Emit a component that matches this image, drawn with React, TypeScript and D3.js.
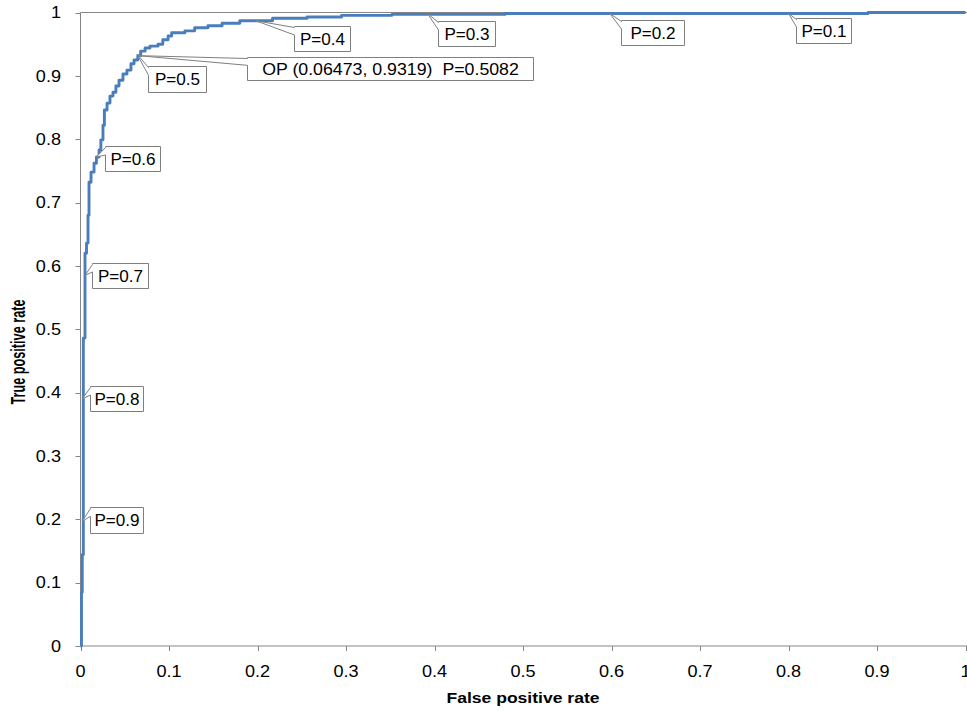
import React from "react";
import * as d3 from "d3";

// ROC curve vertices (false positive rate where the step occurs, true positive rate reached)
const fprValues = [
  0, 0.0011, 0.002, 0.0032, 0.0051, 0.0068, 0.0085, 0.0096, 0.0119, 0.0153, 0.018, 0.021, 0.023,
  0.0254, 0.027, 0.03, 0.0333, 0.0367, 0.04, 0.0435, 0.048, 0.0525, 0.057, 0.0605, 0.06473, 0.068,
  0.073, 0.0785, 0.0876, 0.093, 0.099, 0.103, 0.118, 0.129, 0.144, 0.16, 0.18, 0.217, 0.256, 0.295,
  0.352, 0.48, 0.89, 1,
];
const tprValues = [
  0, 0.085, 0.144, 0.486, 0.62, 0.636, 0.68, 0.732, 0.748, 0.762, 0.772, 0.783, 0.799, 0.822, 0.846,
  0.857, 0.868, 0.874, 0.884, 0.893, 0.903, 0.909, 0.919, 0.925, 0.9319, 0.939, 0.944, 0.947, 0.95,
  0.957, 0.963, 0.968, 0.971, 0.976, 0.979, 0.983, 0.987, 0.991, 0.993, 0.9955, 0.997, 0.9985, 1, 1,
];

const xTicks = [0, 0.1, 0.2, 0.3, 0.4, 0.5, 0.6, 0.7, 0.8, 0.9, 1];
const yTicks = [0, 0.1, 0.2, 0.3, 0.4, 0.5, 0.6, 0.7, 0.8, 0.9, 1];
const xTickLabels = ["0", "0.1", "0.2", "0.3", "0.4", "0.5", "0.6", "0.7", "0.8", "0.9", "1"];
const yTickLabels = ["0", "0.1", "0.2", "0.3", "0.4", "0.5", "0.6", "0.7", "0.8", "0.9", "1"];

const xTitle = "False positive rate";
const yTitle = "True positive rate";

// Callout labels anchored on the curve
const labelTexts = ["P=0.9", "P=0.8", "P=0.7", "P=0.6", "P=0.5", "OP (0.06473, 0.9319)  P=0.5082", "P=0.4", "P=0.3", "P=0.2", "P=0.1"];
const labelFpr = [0.002, 0.002, 0.0051, 0.018, 0.064, 0.06473, 0.198, 0.392, 0.598, 0.8];
const labelTpr = [0.197, 0.39, 0.585, 0.772, 0.934, 0.9319, 0.987, 0.9985, 0.9985, 0.9985];

// layout of callout boxes relative to their anchor (pixels)
const labelLayout = [
  { dx: 7.7, dy: -14, w: 53, h: 26 },
  { dx: 7.7, dy: -13, w: 53, h: 25 },
  { dx: 7, dy: -12.5, w: 56, h: 25 },
  { dx: 8.6, dy: -11, w: 55, h: 25 },
  { dx: 11, dy: 12, w: 58, h: 26 },
  { dx: 109, dy: 1.4, w: 286, h: 23 },
  { dx: 38.3, dy: 5, w: 56, h: 25 },
  { dx: 10.6, dy: 7.6, w: 57, h: 25 },
  { dx: 11.3, dy: 6.6, w: 63, h: 25 },
  { dx: 7.5, dy: 4.6, w: 55, h: 25 },
];

const W = 967;
const H = 711;
const LEFT = 80.5;
const RIGHT = 965.5;
const TOP = 12.5;
const BOTTOM = 646;
const AXIS = "#868686";
const LINE = "#4a7ebb";
const FONT = "'Liberation Sans', Arial, sans-serif";
const SX = 1.13;

export default function App() {
  const x = d3.scaleLinear().domain([0, 1]).range([LEFT, RIGHT]);
  const y = d3.scaleLinear().domain([0, 1]).range([BOTTOM, TOP]);
  const pts = fprValues.map((f, i) => [f, tprValues[i]] as [number, number]);
  const line = d3
    .line<[number, number]>()
    .x((d) => x(d[0]))
    .y((d) => y(d[1]))
    .curve(d3.curveStepAfter);

  return (
    <div style={{ position: "fixed", left: 0, top: 0, width: W, height: H, background: "#fff" }}>
      <svg width={W} height={H} style={{ display: "block" }}>
        <rect x={0} y={0} width={W} height={H} fill="#fff" />
        {/* top border line */}
        <line x1={LEFT} x2={RIGHT + 5} y1={TOP} y2={TOP} stroke={AXIS} strokeWidth={1} />
        {/* y axis */}
        <line x1={LEFT} x2={LEFT} y1={TOP} y2={BOTTOM} stroke={AXIS} strokeWidth={1} />
        {yTicks.map((t, i) => (
          <g key={"yt" + i}>
            <line x1={LEFT - 5} x2={LEFT} y1={Math.round(y(t)) + 0.5} y2={Math.round(y(t)) + 0.5} stroke={AXIS} />
            <g transform={`translate(${61},${y(t)}) scale(${SX},1)`}>
              <text textAnchor="end" dy="0.36em" fontFamily={FONT} fontSize={16} fill="#000">
                {yTickLabels[i]}
              </text>
            </g>
          </g>
        ))}
        {/* x axis */}
        <line x1={LEFT} x2={RIGHT + 5} y1={BOTTOM} y2={BOTTOM} stroke={AXIS} strokeWidth={1} />
        {xTicks.map((t, i) => (
          <g key={"xt" + i}>
            <line x1={Math.round(x(t)) + 0.5} x2={Math.round(x(t)) + 0.5} y1={BOTTOM} y2={BOTTOM + 5} stroke={AXIS} />
            <g transform={`translate(${x(t)},${671}) scale(${SX},1)`}>
              <text textAnchor="middle" dy="0.36em" fontFamily={FONT} fontSize={16} fill="#000">
                {xTickLabels[i]}
              </text>
            </g>
          </g>
        ))}
        {/* axis titles */}
        <text
          x={523}
          y={703}
          textAnchor="middle"
          fontFamily={FONT}
          fontWeight="bold"
          fontSize={14}
          textLength={153}
          lengthAdjust="spacingAndGlyphs"
          fill="#000"
        >
          {xTitle}
        </text>
        <g transform={`translate(24.5,352) rotate(-90)`}>
          <text
            x={0}
            y={0}
            textAnchor="middle"
            fontFamily={FONT}
            fontWeight="bold"
            fontSize={14}
            textLength={105}
            lengthAdjust="spacingAndGlyphs"
            transform="scale(1,1.4)"
            fill="#000"
          >
            {yTitle}
          </text>
        </g>
        {/* ROC curve */}
        <path d={line(pts) || ""} fill="none" stroke={LINE} strokeWidth={2.9} strokeLinejoin="round" />
        {/* callouts */}
        {labelTexts.map((txt, i) => {
          const tx = x(labelFpr[i]);
          const ty = y(labelTpr[i]);
          const L = labelLayout[i];
          const bx = Math.round(tx + L.dx) + 0.5;
          const by = Math.round(ty + L.dy) + 0.5;
          const b1 = by + Math.max(1, L.h * 0.04);
          const b2 = by + L.h * 0.34;
          const d = `M${bx},${by} L${bx + L.w},${by} L${bx + L.w},${by + L.h} L${bx},${by + L.h} L${bx},${b2} L${tx},${ty} L${bx},${b1} Z`;
          return (
            <g key={"lab" + i}>
              <path d={d} fill="#fff" stroke="#7f7f7f" strokeWidth={1} />
              <g transform={`translate(${bx + L.w / 2},${by + L.h / 2}) scale(${i === 5 ? 1.11 : 1.07},1)`}>
                <text
                  textAnchor="middle"
                  dy="0.36em"
                  fontFamily={FONT}
                  fontSize={16}
                  fill="#000"
                  style={{ whiteSpace: "pre" }}
                  xmlSpace="preserve"
                >
                  {txt}
                </text>
              </g>
            </g>
          );
        })}
      </svg>
    </div>
  );
}
